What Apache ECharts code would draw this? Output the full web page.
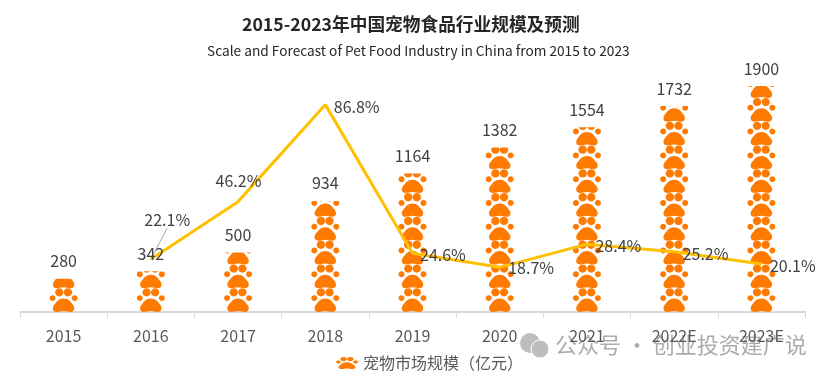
<!DOCTYPE html>
<html><head><meta charset="utf-8">
<style>html,body{margin:0;padding:0;background:#fff}#c{width:832px;height:378px}</style>
<script src="https://cdn.jsdelivr.net/npm/echarts@6/dist/echarts.min.js"></script>
</head><body><div id="c"></div>
<script>
const categories = ['2015','2016','2017','2018','2019','2020','2021','2022E','2023E'];
const marketSize = [280,342,500,934,1164,1382,1554,1732,1900];
const growthRate = [null,22.1,46.2,86.8,24.6,18.7,28.4,25.2,20.1];
const seriesName = '宠物市场规模（亿元）';
const titleText = '2015-2023年中国宠物食品行业规模及预测';
const subtitleText = 'Scale and Forecast of Pet Food Industry in China from 2015 to 2023';
const watermarkText = '公众号 · 创业投资建广说';

const circle = (x,y,r)=>{const k=r*0.5523;return `M${x} ${y-r}C${x+k} ${y-r} ${x+r} ${y-k} ${x+r} ${y}C${x+r} ${y+k} ${x+k} ${y+r} ${x} ${y+r}C${x-k} ${y+r} ${x-r} ${y+k} ${x-r} ${y}C${x-r} ${y-k} ${x-k} ${y-r} ${x} ${y-r}Z`;};
const paw = 'path://M14 10.5C19 10.5 21 14 23.5 17C26 20.5 24.5 24 21 24C18 24 17 23 14 23C11 23 10 24 7 24C3.5 24 2 20.5 4.5 17C7 14 9 10.5 14 10.5Z' +
  circle(9.7,4.2,4.2)+circle(18.3,4.2,4.2)+circle(3,10,3)+circle(25,10,3);
const font = '"Noto Sans CJK SC","Noto Sans",sans-serif';
const labelShift = [null,[-11,-39],[-27,-21],[4,2],[3,2],[4,1],[4,2],[4,2],[4,2]];

const chart = echarts.init(document.getElementById('c'), null, {renderer:'canvas'});
chart.setOption({
  animation:false,
  backgroundColor:'#fff',
  title:[
    {text:titleText,left:242,top:15,padding:0,textStyle:{fontFamily:font,fontSize:17.7,fontWeight:'bold',color:'#262626'}},
    {text:subtitleText,left:207,top:44,padding:0,textStyle:{fontFamily:font,fontSize:13.7,fontWeight:'normal',color:'#262626'}}
  ],
  legend:{data:[{name:seriesName,icon:paw}],left:336,top:355,itemWidth:22,itemHeight:12,itemGap:3,padding:0,symbolKeepAspect:false,
    textStyle:{fontFamily:font,fontSize:16,color:'#595959'}},
  grid:{left:20,right:27,top:86,bottom:66},
  xAxis:{type:'category',data:categories,
    axisLine:{lineStyle:{color:'#d9d9d9',width:2}},
    axisTick:{show:true,length:6,lineStyle:{color:'#d9d9d9',width:1}},
    axisLabel:{fontFamily:font,fontSize:16,color:'#595959',margin:16,interval:0}},
  yAxis:[
    {type:'value',min:0,max:1900,show:false,splitLine:{show:false}},
    {type:'value',min:0,max:94.6,show:false,splitLine:{show:false}}
  ],
  series:[
    {name:seriesName,type:'pictorialBar',data:marketSize,yAxisIndex:0,barWidth:30,
      symbol:paw,symbolSize:[28,23.8],symbolRepeat:true,symbolMargin:0,symbolClip:true,symbolBoundingData:2000,
      itemStyle:{color:'#FF7A00'},z:2},
    {name:'规模标签',type:'line',data:marketSize,yAxisIndex:0,symbol:'circle',symbolSize:1,z:4,
      lineStyle:{opacity:0},itemStyle:{color:'transparent'},
      label:{show:true,position:'top',distance:9,fontFamily:font,fontSize:16,color:'#404040'},
      emphasis:{disabled:true}},
    {name:'增长率',type:'line',data:growthRate.map((v,i)=>i===1?{value:v,labelLine:{show:true,lineStyle:{color:'#a6a6a6',width:1}}}:v),
      yAxisIndex:1,symbol:'circle',symbolSize:1,z:3,connectNulls:false,
      lineStyle:{color:'#FFC000',width:3},itemStyle:{color:'#FFC000'},
      label:{show:true,position:'right',distance:4,fontFamily:font,fontSize:16,color:'#404040',
        formatter:p=>{const v=growthRate[p.dataIndex];return v==null?'':v.toFixed(1)+'%';}},
      labelLayout:p=>{
        const s=labelShift[p.dataIndex]; if(!s) return {};
        return {dx:s[0],dy:s[1]};
      },
      emphasis:{disabled:true}}
  ],
  graphic:[
    {type:'group',z:100,silent:true,children:[
      {type:'circle',shape:{cx:530,cy:343,r:10},style:{fill:'#bdbdbd'}},
      {type:'circle',shape:{cx:540,cy:349,r:9},style:{fill:'#bdbdbd',stroke:'#fff',lineWidth:1}},
      {type:'text',style:{x:555,y:334,text:watermarkText,fill:'rgba(150,150,150,.8)',font:'22px '+font}}
    ]}
  ]
});
</script></body></html>
